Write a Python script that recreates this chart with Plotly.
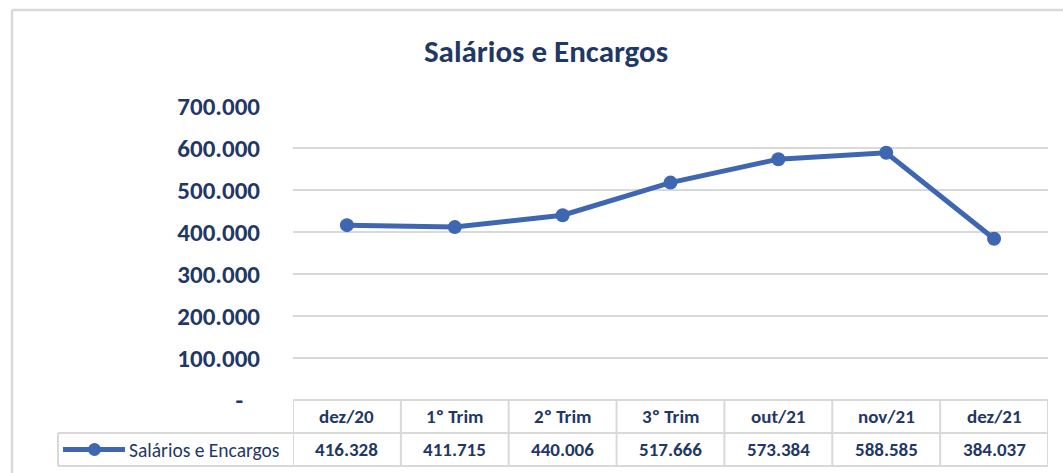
import plotly.graph_objects as go

categories = ["dez/20", "1º Trim", "2º Trim", "3º Trim", "out/21", "nov/21", "dez/21"]
values = [416328, 411715, 440006, 517666, 573384, 588585, 384037]
series_name = "Salários e Encargos"
title_text = "Salários e Encargos"
y_tickvals = [0, 100000, 200000, 300000, 400000, 500000, 600000, 700000]
y_ticktext = ["-   ", "100.000", "200.000", "300.000", "400.000", "500.000", "600.000", "700.000"]

W, H = 1063, 473
NAVY = "#1F3864"
LINE = "#3F67B1"
GRID = "#D9D9D9"
FONT = "Calibri, Carlito, Lato, sans-serif"

def py(px):
    return 1 - px / H

def pxx(px):
    return px / W

def fmt(v):
    return f"{v:,}".replace(",", ".")

x_left, x_right = 293, 1048
y_zero, y_top = 400, 106
row_mid = 433
row_bot = 466

fig = go.Figure()
fig.add_trace(go.Scatter(
    x=categories, y=values, mode="lines+markers", name=series_name,
    line=dict(color=LINE, width=5),
    marker=dict(color=LINE, size=14),
    showlegend=False,
))

shapes = []
# chart outer border (top and left)
shapes.append(dict(type="line", xref="paper", yref="paper", x0=pxx(12), x1=1.0, y0=py(10), y1=py(10),
                   line=dict(color=GRID, width=2.5)))
shapes.append(dict(type="line", xref="paper", yref="paper", x0=pxx(12), x1=pxx(12), y0=0, y1=py(10),
                   line=dict(color=GRID, width=2.5)))
# table horizontal lines
shapes.append(dict(type="line", xref="paper", yref="paper", x0=pxx(x_left), x1=pxx(x_right), y0=py(y_zero), y1=py(y_zero),
                   line=dict(color=GRID, width=2)))
shapes.append(dict(type="line", xref="paper", yref="paper", x0=pxx(58), x1=pxx(x_right), y0=py(row_mid), y1=py(row_mid),
                   line=dict(color=GRID, width=2)))
shapes.append(dict(type="line", xref="paper", yref="paper", x0=pxx(58), x1=pxx(x_right), y0=py(row_bot), y1=py(row_bot),
                   line=dict(color=GRID, width=2)))
shapes.append(dict(type="line", xref="paper", yref="paper", x0=pxx(58), x1=pxx(58), y0=py(row_mid), y1=py(row_bot),
                   line=dict(color=GRID, width=2)))
# table vertical lines
for k in range(len(categories) + 1):
    shapes.append(dict(type="line", xref="x", yref="paper", x0=k - 0.5, x1=k - 0.5, y0=py(y_zero), y1=py(row_bot),
                       line=dict(color=GRID, width=2)))
# legend key in table
shapes.append(dict(type="line", xref="paper", yref="paper", x0=pxx(63), x1=pxx(125), y0=py(449.5), y1=py(449.5),
                   line=dict(color=LINE, width=5)))
shapes.append(dict(type="circle", xref="paper", yref="paper", x0=pxx(88), x1=pxx(101), y0=py(456), y1=py(443),
                   fillcolor=LINE, line=dict(color=LINE, width=0)))

annotations = []
for c, v in zip(categories, values):
    annotations.append(dict(x=c, xref="x", y=py(416.5), yref="paper", text=f"<b>{c}</b>", showarrow=False,
                            font=dict(family=FONT, size=19, color=NAVY), xanchor="center", yanchor="middle"))
    annotations.append(dict(x=c, xref="x", y=py(449.5), yref="paper", text=f"<b>{fmt(v)}</b>", showarrow=False,
                            font=dict(family=FONT, size=19, color=NAVY), xanchor="center", yanchor="middle"))
annotations.append(dict(x=pxx(282), xref="paper", y=py(449.5), yref="paper", text=series_name, showarrow=False,
                        font=dict(family=FONT, size=19.5, color=NAVY), xanchor="right", yanchor="middle"))

fig.update_layout(
    width=W, height=H,
    autosize=False,
    margin=dict(l=0, r=0, t=0, b=0, pad=0),
    paper_bgcolor="white", plot_bgcolor="white",
    title=dict(text=f"<b>{title_text}</b>", x=pxx(546), xanchor="center", y=py(51), yanchor="middle",
               font=dict(family=FONT, size=31, color=NAVY)),
    xaxis=dict(domain=[pxx(x_left), pxx(x_right)], range=[-0.5, len(categories) - 0.5],
               showgrid=False, showticklabels=False, zeroline=False, showline=False, fixedrange=True,
               automargin=False),
    yaxis=dict(domain=[py(y_zero), py(y_top)], range=[0, 700000],
               tickvals=y_tickvals, ticktext=y_ticktext,
               showgrid=True, gridcolor=GRID, gridwidth=2, zeroline=False, showline=False,
               ticklabelstandoff=32, automargin=False,
               tickfont=dict(family=FONT, size=25, color=NAVY, weight="bold"), fixedrange=True),
    shapes=shapes,
    annotations=annotations,
)

fig.write_html("out.html", config={"displayModeBar": False},
               post_script="document.body.style.margin='0';document.body.style.overflow='hidden';")
